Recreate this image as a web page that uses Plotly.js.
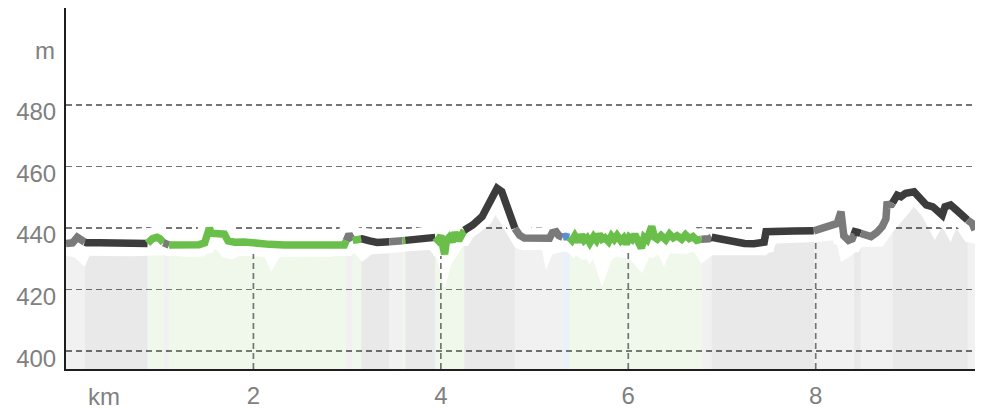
<!DOCTYPE html>
<html><head><meta charset="utf-8">
<script src="https://cdn.plot.ly/plotly-3.0.1.min.js"></script>
<style>html,body{margin:0;padding:0;background:#fff}#chart{width:985px;height:410px}</style>
</head><body><div id="chart"></div>
<script>
// ---- profile line (distance km, elevation m) ----
const profKm = [
 0.00,0.07,0.12,0.19,0.22,0.36,0.52,0.68,0.87,0.92,0.97,1.00,1.04,1.10,1.26,1.42,1.48,1.51,1.53,1.55,
 1.64,1.69,1.73,1.80,1.90,2.01,2.17,2.33,2.49,2.65,2.81,2.97,3.02,3.06,3.11,3.16,3.24,3.32,3.41,3.47,
 3.56,3.62,3.72,3.82,3.93,3.97,4.00,4.02,4.04,4.06,4.09,4.12,4.15,4.19,4.22,4.25,4.34,4.44,4.52,4.57,
 4.60,4.65,4.70,4.75,4.79,4.84,4.89,5.00,5.10,5.16,5.19,5.23,5.26,5.30,5.33,5.37,5.40,5.43,5.47,5.50,
 5.53,5.56,5.59,5.63,5.66,5.69,5.72,5.75,5.79,5.82,5.85,5.88,5.92,5.95,5.98,6.01,6.04,6.07,6.11,6.14,
 6.17,6.20,6.25,6.28,6.31,6.35,6.40,6.44,6.48,6.52,6.57,6.61,6.65,6.69,6.73,6.78,6.82,6.86,6.89,6.99,
 7.13,7.24,7.34,7.45,7.47,7.56,7.77,7.98,8.09,8.23,8.27,8.30,8.35,8.39,8.42,8.46,8.52,8.59,8.65,8.71,
 8.75,8.76,8.81,8.84,8.87,8.91,8.96,9.05,9.12,9.18,9.25,9.30,9.35,9.38,9.44,9.50,9.56,9.62,9.67,9.70];
const profElev = [
 435.0,435.2,437.0,435.5,435.2,435.2,435.0,435.3,435.0,436.5,437.0,436.6,435.2,434.5,434.4,434.6,435.2,438.0,440.0,438.3,
 438.1,438.0,435.8,435.4,435.5,435.0,434.7,434.5,434.4,434.5,434.4,434.5,438.0,436.0,436.2,436.5,435.8,435.3,435.5,435.6,
 435.7,436.0,436.4,436.6,437.3,436.0,437.5,435.0,431.5,436.0,437.0,435.5,438.5,436.0,437.5,439.3,441.0,443.7,448.0,451.8,
 452.9,451.8,448.0,443.7,439.9,437.7,436.8,436.6,436.6,436.7,438.5,438.8,437.5,437.0,437.3,437.0,436.0,437.5,435.5,437.8,
 436.0,436.8,435.2,437.2,436.0,438.0,436.4,436.9,435.6,437.4,436.3,437.6,435.9,436.8,434.8,437.0,436.3,437.9,436.0,433.5,
 437.0,436.2,440.5,437.0,436.4,437.6,436.2,438.0,436.8,437.5,436.4,437.8,436.6,437.2,436.0,436.4,436.2,436.5,437.0,436.3,
 435.6,435.0,434.9,435.4,438.8,439.0,439.0,439.1,440.0,441.5,445.3,437.5,436.0,436.5,438.8,438.5,437.8,437.2,438.5,440.5,
 443.0,447.6,447.7,449.1,450.7,450.2,451.3,451.8,449.7,447.5,446.9,445.3,444.2,446.9,447.5,445.9,444.2,442.6,441.5,439.4];

// ---- shaded area under the profile (distance km, elevation m) ----
const fillKm = [
 0.00,0.09,0.20,0.25,0.46,0.68,0.89,1.05,1.32,1.48,1.53,1.60,1.67,1.77,1.85,2.01,2.12,2.19,2.28,2.49,
 2.81,2.99,3.08,3.16,3.26,3.45,3.63,3.88,3.96,4.04,4.11,4.23,4.34,4.49,4.57,4.65,4.78,4.87,5.08,5.12,
 5.19,5.30,5.40,5.51,5.62,5.72,5.82,5.87,6.01,6.15,6.24,6.33,6.38,6.44,6.60,6.70,6.78,6.90,7.11,7.47,
 7.58,8.01,8.22,8.27,8.36,8.50,8.71,8.84,9.05,9.14,9.27,9.35,9.44,9.50,9.60,9.69,9.70];
const fillElev = [
 431.0,430.5,427.4,431.0,430.9,430.8,431.0,431.3,430.6,430.8,433.4,433.0,430.5,429.8,431.0,430.8,430.6,425.8,430.5,430.7,
 430.6,431.5,431.8,429.0,431.5,431.8,432.5,432.9,430.0,420.4,428.0,433.9,437.2,440.4,444.8,441.0,433.9,432.9,432.9,426.3,
 431.5,432.3,432.0,429.6,430.3,420.9,429.5,430.7,430.0,425.3,431.8,431.0,427.4,431.8,431.5,432.3,428.5,431.2,431.2,431.2,
 435.0,435.5,436.1,429.0,430.7,433.9,433.9,439.4,446.9,443.7,436.1,440.4,435.5,439.9,435.5,435.0,435.0];

// ---- surface segments (end km and type) ----
const segEnd  = [0.20,0.87,1.04,1.10,2.99,3.06,3.15,3.45,3.59,3.62,3.94,4.25,4.79,5.30,5.37,6.78,6.89,7.98,8.41,8.48,8.82,9.62,9.70];
const segType = ['grey','dark','green','grey','green','grey','green','dark','grey','green','dark','green','dark','grey','blue','green','grey','dark','grey','dark','grey','dark','grey'];

// ---- axes ----
const xTicks = [2,4,6,8];
const yTicks = [400,420,440,460,480];
const xUnit = 'km', xUnitAt = 0.41;
const yUnit = 'm', yUnitAt = 500;
const xRange = [0,9.7], yRange = [394.2,511.5];

const lineColors = {dark:'#3c3c3c', grey:'#7a7a7a', green:'#6abf4b', blue:'#5a8fd6'};
const fillColors = {dark:'rgba(0,0,0,0.085)', grey:'rgba(0,0,0,0.055)', green:'rgba(106,191,75,0.11)', blue:'rgba(90,143,214,0.12)'};
const gridColor = '#747474', textColor = '#808080';

function interp(xs, ys, x){
  for (let i=1;i<xs.length;i++){ if (x<=xs[i]){ const t=(x-xs[i-1])/(xs[i]-xs[i-1]); return ys[i-1]+t*(ys[i]-ys[i-1]); } }
  return ys[ys.length-1];
}
function slice(xs, ys, a, b){
  const X=[a], Y=[interp(xs,ys,a)];
  for (let i=0;i<xs.length;i++){ if (xs[i]>a && xs[i]<b){ X.push(xs[i]); Y.push(ys[i]); } }
  X.push(b); Y.push(interp(xs,ys,b));
  return {X,Y};
}

const traces = [];
let start = 0;
segEnd.forEach((end,i)=>{
  const s = slice(fillKm, fillElev, start, end);
  traces.push({type:'scatter', mode:'lines', x:s.X, y:s.Y, fill:'tozeroy', fillcolor:fillColors[segType[i]],
    line:{width:0}, hoverinfo:'skip', showlegend:false});
  start = end;
});
// vertical grid lines up to the profile
const gx=[], gy=[];
xTicks.forEach(t=>{ gx.push(t,t,null); gy.push(yRange[0], interp(profKm, profElev, t), null); });
traces.push({type:'scatter', mode:'lines', x:gx, y:gy, line:{color:gridColor, width:1.7, dash:'6px,4px'}, hoverinfo:'skip', showlegend:false});
// white halo
traces.push({type:'scatter', mode:'lines', x:profKm, y:profElev, line:{color:'#ffffff', width:22}, hoverinfo:'skip', showlegend:false});
// coloured profile
start = 0;
segEnd.forEach((end,i)=>{
  const s = slice(profKm, profElev, start, end);
  traces.push({type:'scatter', mode:'lines', x:s.X, y:s.Y, line:{color:lineColors[segType[i]], width:7.5},
    hoverinfo:'skip', showlegend:false});
  start = end;
});

const font = {family:'"Liberation Sans", Arial, sans-serif', size:24, color:textColor};
const layout = {
  width:985, height:410, margin:{l:66, r:10, t:8, b:41},
  paper_bgcolor:'#ffffff', plot_bgcolor:'#ffffff', showlegend:false, font:font,
  xaxis:{range:xRange, tickvals:xTicks, ticks:'', showgrid:false, zeroline:false, showline:true,
    linecolor:'#1e1e1e', linewidth:2, ticklabelstandoff:4, tickfont:font, fixedrange:true},
  yaxis:{range:yRange, tickvals:yTicks, ticks:'', showgrid:true, gridcolor:gridColor, gridwidth:1.7, griddash:'6px,4px',
    zeroline:false, showline:true, linecolor:'#1e1e1e', linewidth:2, ticklabelstandoff:3, ticklabelshift:7,
    tickfont:font, fixedrange:true},
  annotations:[
    {xref:'x', yref:'paper', x:xUnitAt, y:0, yanchor:'top', yshift:-12, text:xUnit, showarrow:false, font:font},
    {xref:'paper', yref:'y', x:0, y:yUnitAt, xanchor:'right', xshift:-9, yshift:-7, text:yUnit, showarrow:false, font:font}
  ]
};
Plotly.newPlot('chart', traces, layout, {staticPlot:true, displayModeBar:false});
</script>
</body></html>
